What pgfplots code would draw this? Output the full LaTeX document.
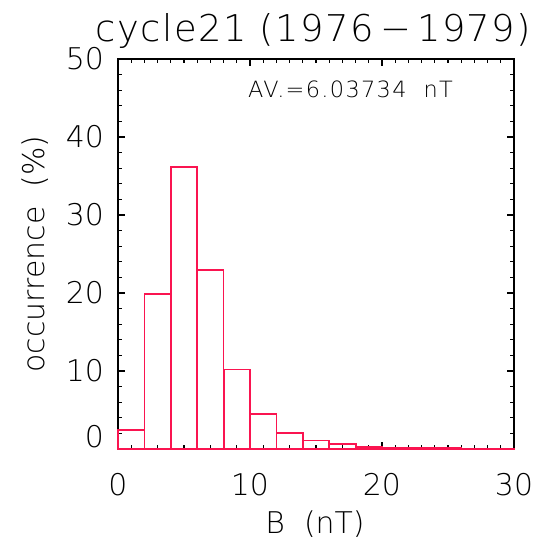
\documentclass[border=0pt]{standalone}
\usepackage{fontspec}
\setmainfont{DejaVu Sans ExtraLight}
\usepackage{pgfplots}
\pgfplotsset{compat=1.18}
\definecolor{barred}{RGB}{250,20,80}
\begin{document}
\begin{tikzpicture}
\begin{axis}[
  scale only axis,
  width=396bp, height=390bp,
  xmin=0, xmax=30, ymin=0, ymax=50,
  xtick={0,10,20,30},
  minor xtick={1,...,29},
  ytick={10,20,30,40,50},
  minor ytick={2,4,...,48},
  extra y ticks={0},
  extra y tick style={yticklabel style={yshift=12bp}},
  tick align=inside,
  major tick length=7bp,
  minor tick length=4bp,
  every tick/.style={black, line width=1.1pt},
  axis line style={black, line width=1.6pt},
  /pgf/number format/assume math mode=true,
  xticklabel style={font=\fontsize{30}{30}\selectfont, anchor=base, yshift=-46bp, inner sep=0pt},
  yticklabel style={font=\fontsize{30}{30}\selectfont, anchor=east, xshift=-14bp, inner sep=0pt},
  clip=false,
]
\addplot[ybar interval, draw=barred, fill=none, line width=1.8pt] coordinates {
(0,2.4) (2,19.9) (4,36.2) (6,22.9) (8,10.2) (10,4.5) (12,2.1) (14,1.1)
(16,0.6) (18,0.3) (20,0.15) (22,0.1) (24,0.08) (26,0.05) (28,0.03) (30,0.03)
};
\node[anchor=base, inner sep=0pt, font=\fontsize{37}{37}\selectfont\addfontfeature{LetterSpace=4}] at ([xshift=-2.5bp,yshift=17bp]rel axis cs:0.5,1) {cycle21 (1976\,−\,1979)};
\node[anchor=base, inner sep=0pt, font=\fontsize{30}{30}\selectfont] at ([xshift=-1bp,yshift=-84bp]rel axis cs:0.5,0) {B\ \ (nT)};
\node[anchor=base, rotate=90, inner sep=0pt, font=\fontsize{30}{30}\selectfont] at ([xshift=-73bp]rel axis cs:0,0.5) {occurrence\ \ (\%)};
\node[anchor=base west, inner sep=0pt, font=\fontsize{22.5}{22.5}\selectfont\addfontfeature{LetterSpace=6}] at ([xshift=130bp,yshift=-39bp]rel axis cs:0,1) {AV.=6.03734\ \ nT};
\end{axis}
\pgfresetboundingbox
\path ([shift={(-118bp,-94bp)}]current axis.south west) rectangle ([shift={(21bp,59bp)}]current axis.north east);
\end{tikzpicture}
\end{document}
